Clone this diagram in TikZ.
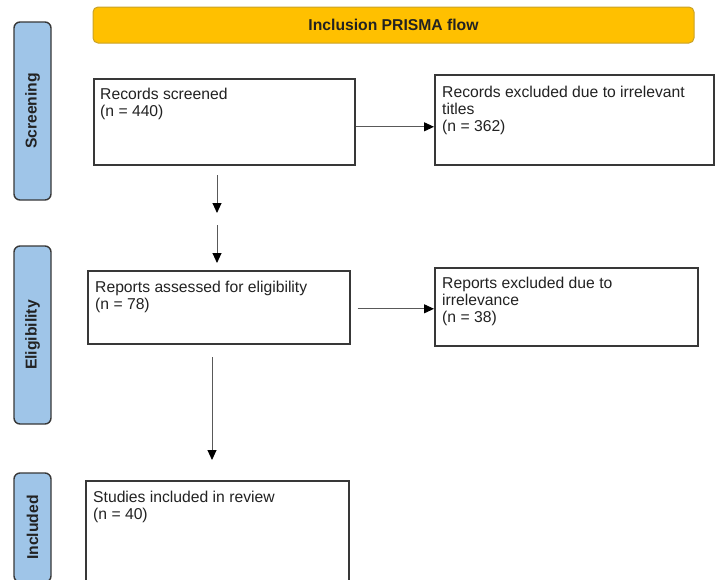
\documentclass[tikz,border=0pt]{standalone}
\usepackage{fontspec}
\setmainfont{Liberation Sans}
\usetikzlibrary{arrows.meta}
\definecolor{bannerfill}{HTML}{FFC000}
\definecolor{bannerline}{HTML}{C9A227}
\definecolor{sideblue}{HTML}{9FC5E8}
\definecolor{ink}{HTML}{222222}
\begin{document}
\begin{tikzpicture}[x=1pt,y=-1pt,
  font=\fontsize{15.7}{17}\selectfont,
  box/.style={draw=black!78, line width=1.6pt, fill=white, anchor=north west, inner sep=0pt},
  sidebox/.style={draw=black!78, line width=1.4pt, fill=sideblue, rounded corners=6pt, rotate=90, inner sep=0pt, font=\fontsize{15.7}{17}\selectfont\bfseries, text=ink},
  bannerbox/.style={draw=bannerline, line width=1pt, fill=bannerfill, rounded corners=5pt, inner sep=0pt, font=\fontsize{15.7}{17}\selectfont\bfseries, text=ink},
  boxtext/.style={anchor=north west, align=left, inner sep=0pt, text=ink},
  arr/.style={draw=black!65, line width=0.9pt, -{Triangle[length=10pt,width=9pt,fill=black,color=black]}}
]
\useasboundingbox (0,0) rectangle (717,579);
\clip (0,0) rectangle (717,579);

% banner
\node[bannerbox, minimum width=601pt, minimum height=36pt] (title) at (393.5,25) {Inclusion PRISMA flow};

% side bars
\node[sidebox, minimum width=178pt, minimum height=37pt] (s1) at (32.5,111) {Screening};
\node[sidebox, minimum width=178pt, minimum height=37pt] (s2) at (32.5,335) {Eligibility};
\node[sidebox, minimum width=109pt, minimum height=37pt] (s3) at (32.5,527.5) {Included};

% boxes
\node[box, minimum width=261pt, minimum height=86pt] (rs) at (93,78) {};
\node[boxtext] (rst) at (100,88) {Records screened\\(n = 440)};

\node[box, minimum width=279pt, minimum height=90pt] (re) at (434,74) {};
\node[boxtext] (ret) at (442,86) {Records excluded due to irrelevant\\titles\\(n = 362)};

\node[box, minimum width=262pt, minimum height=73pt] (ra) at (87,270) {};
\node[boxtext] (rat) at (95,281) {Reports assessed for eligibility\\(n = 78)};

\node[box, minimum width=263pt, minimum height=78pt] (rx) at (434,267) {};
\node[boxtext] (rxt) at (442,277) {Reports excluded due to\\irrelevance\\(n = 38)};

\node[box, minimum width=263pt, minimum height=115pt] (si) at (85,480) {};
\node[boxtext] (sit) at (93,491) {Studies included in review\\(n = 40)};

% connectors
\coordinate (h1) at ([yshift=-5pt]rs.east);
\draw[arr] (h1) -- (h1 -| re.west);
\coordinate (h2) at ([xshift=7pt,yshift=-1.5pt]ra.east);
\draw[arr] (h2) -- (h2 -| rx.west);

\coordinate (d1a) at (217,175);
\coordinate (d1b) at (217,213);
\coordinate (d2a) at (217,225);
\coordinate (d2b) at (217,263);
\coordinate (d3a) at (212,357);
\coordinate (d3b) at (212,460);
\draw[arr] (d1a) -- (d1b);
\draw[arr] (d2a) -- (d2b);
\draw[arr] (d3a) -- (d3b);
\end{tikzpicture}
\end{document}
